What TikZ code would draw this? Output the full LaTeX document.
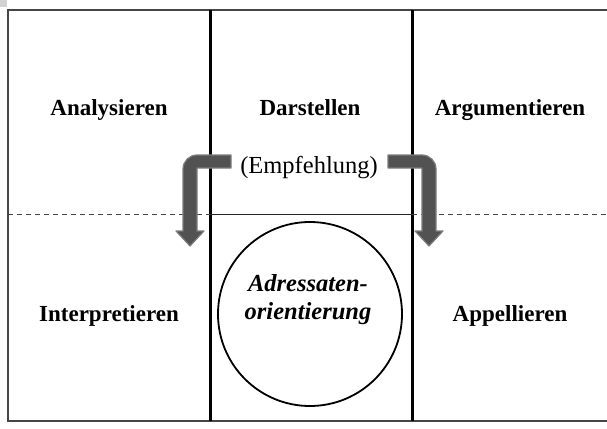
\documentclass[tikz,border=0pt]{standalone}
\usepackage{fontspec}
\setmainfont{Liberation Serif}
\definecolor{pfeilfill}{RGB}{82,82,82}
\definecolor{pfeilrand}{RGB}{125,125,125}
\definecolor{rahmen}{RGB}{70,70,70}
\begin{document}
\begin{tikzpicture}[x=1pt, y=1pt,
    feld/.style={font=\bfseries\fontsize{23}{27}\selectfont, anchor=base},
    pfeil/.style={fill=pfeilfill, draw=pfeilrand, line width=1.2pt, line join=round}]
    \useasboundingbox (0,0) rectangle (607,-428);
    \clip (0,0) rectangle (607,-428);

    % Symbol
    \fill[gray!35] (0,0) rectangle (7,-7);

    % Rahmen
    \draw[rahmen, line width=1.5pt] (8,-10) rectangle (625,-421);

    % Spalten
    \draw[line width=3pt] (210,-10) -- (210,-421);
    \draw[line width=3pt] (412,-10) -- (412,-421);

    % Trennlinien
    \draw[rahmen, dash pattern=on 5pt off 4pt] (8,-214) -- (210,-214);
    \draw[rahmen, dash pattern=on 5pt off 4pt] (412,-214) -- (607,-214);
    \draw[black!85] (210,-214) -- (412,-214);

    % Kreis
    \draw[line width=1.8pt] (310,-314) circle (92);

    % Texte
    \node[feld] (ana) at (109,-115) {Analysieren};
    \node[feld] (dar) at (310,-115) {Darstellen};
    \node[feld] (arg) at (510,-115) {Argumentieren};
    \node[feld] (int) at (109,-321) {Interpretieren};
    \node[feld] (app) at (510,-321) {Appellieren};
    \node[font=\fontsize{24.5}{28}\selectfont, anchor=base] (emp) at (309,-173) {(Empfehlung)};
    \node[font=\bfseries\itshape\fontsize{24.5}{28}\selectfont, align=center] (adr) at (308,-300)
        {Adressaten-\\orientierung};

    % Pfeile
    \filldraw[pfeil] (231,-155) -- (197,-155) arc[start angle=90, end angle=180, radius=14]
        -- (183,-231) -- (176,-231) -- (190,-246) -- (204,-231) -- (197,-231)
        -- (197,-168) -- (231,-168) -- cycle;
    \filldraw[pfeil] (388,-155) -- (422,-155) arc[start angle=90, end angle=0, radius=14]
        -- (436,-231) -- (443,-231) -- (429,-246) -- (415,-231) -- (422,-231)
        -- (422,-168) -- (388,-168) -- cycle;
\end{tikzpicture}
\end{document}
